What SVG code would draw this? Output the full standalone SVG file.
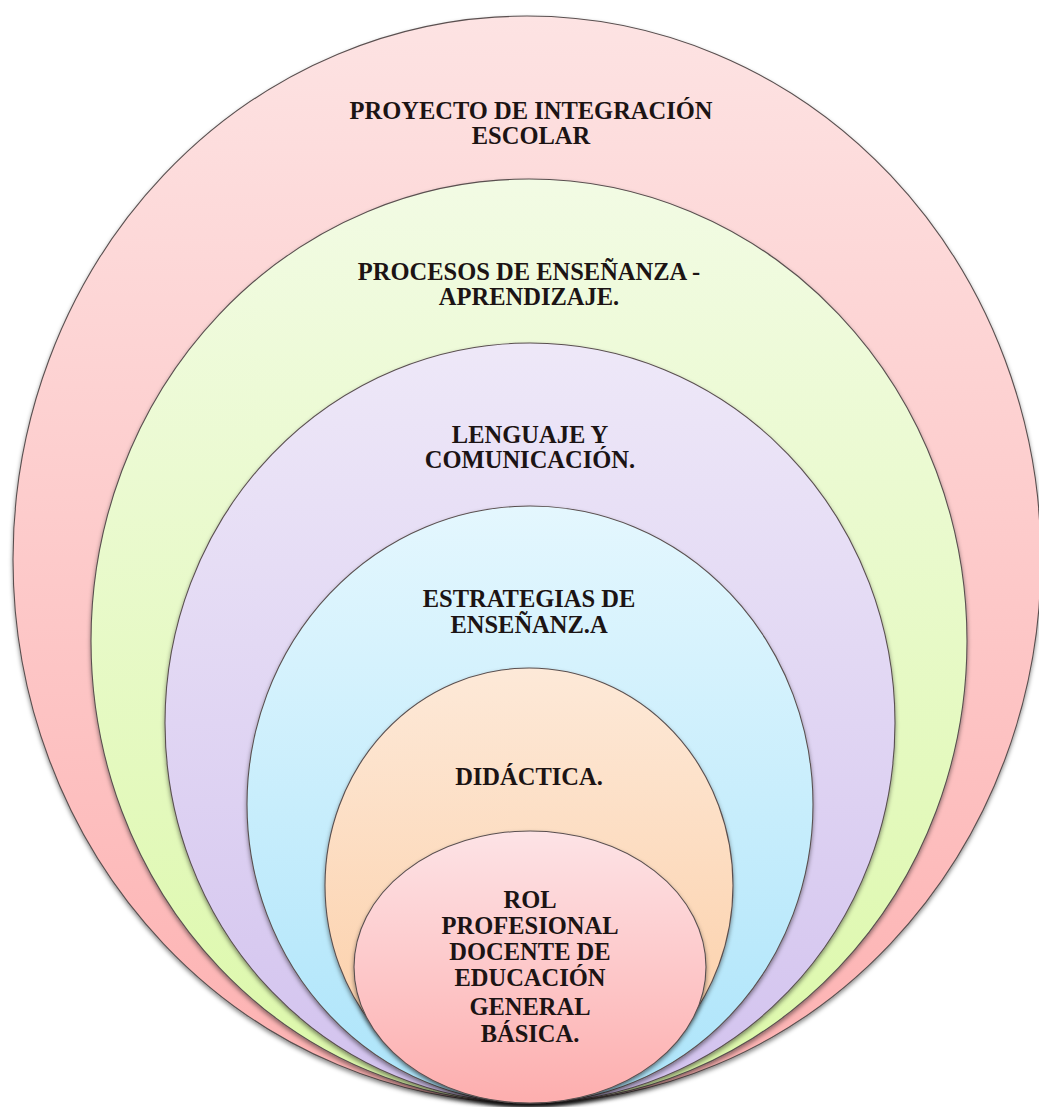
<svg xmlns="http://www.w3.org/2000/svg" width="1039" height="1107" viewBox="0 0 1039 1107">
<style>
.ring{stroke:#5a5050;stroke-width:1.1;filter:url(#sh)}
.lbl{font-family:"Liberation Serif","Times New Roman",serif;font-weight:bold;font-size:24.5px;fill:#1c1414;text-anchor:middle}
</style>
<defs>
<filter id="sh" x="-5%" y="-5%" width="110%" height="112%">
<feDropShadow dx="0" dy="2.5" stdDeviation="2.2" flood-color="#000" flood-opacity="0.45"/>
</filter>
<linearGradient id="g1" x1="0" y1="0" x2="0" y2="1"><stop offset="0" stop-color="#fde3e3"/><stop offset="1" stop-color="#fdb1b1"/></linearGradient>
<linearGradient id="g2" x1="0" y1="0" x2="0" y2="1"><stop offset="0" stop-color="#f2fbe4"/><stop offset="1" stop-color="#dcf8a9"/></linearGradient>
<linearGradient id="g3" x1="0" y1="0" x2="0" y2="1"><stop offset="0" stop-color="#eee8f8"/><stop offset="1" stop-color="#d2c2ee"/></linearGradient>
<linearGradient id="g4" x1="0" y1="0" x2="0" y2="1"><stop offset="0" stop-color="#e4f7fe"/><stop offset="1" stop-color="#ace4fa"/></linearGradient>
<linearGradient id="g5" x1="0" y1="0" x2="0" y2="1"><stop offset="0" stop-color="#fde9d8"/><stop offset="1" stop-color="#fccca2"/></linearGradient>
<linearGradient id="g6" x1="0" y1="0" x2="0" y2="1"><stop offset="0" stop-color="#fde3e6"/><stop offset="1" stop-color="#fdaeae"/></linearGradient>
</defs>
<rect width="1039" height="1107" fill="#ffffff"/>
<g id="n1">
<ellipse class="ring" cx="527" cy="559.5" rx="514" ry="543.5" fill="url(#g1)"/>
<text class="lbl" x="531" y="119">PROYECTO DE INTEGRACIÓN</text>
<text class="lbl" x="531" y="144">ESCOLAR</text>
</g>
<g id="n2">
<ellipse class="ring" cx="529" cy="641" rx="438" ry="462" fill="url(#g2)"/>
<text class="lbl" x="529" y="280">PROCESOS DE ENSEÑANZA -</text>
<text class="lbl" x="529" y="305">APRENDIZAJE.</text>
</g>
<g id="n3">
<ellipse class="ring" cx="530" cy="723" rx="365" ry="380" fill="url(#g3)"/>
<text class="lbl" x="530" y="443">LENGUAJE Y</text>
<text class="lbl" x="530" y="468">COMUNICACIÓN.</text>
</g>
<g id="n4">
<ellipse class="ring" cx="530" cy="804.5" rx="283" ry="298.5" fill="url(#g4)"/>
<text class="lbl" x="529" y="607">ESTRATEGIAS DE</text>
<text class="lbl" x="529" y="633">ENSEÑANZ.A</text>
</g>
<g id="n5">
<ellipse class="ring" cx="529" cy="885.5" rx="204" ry="217.5" fill="url(#g5)"/>
<text class="lbl" x="529" y="785">DIDÁCTICA.</text>
</g>
<g id="n6">
<ellipse class="ring" cx="530" cy="967" rx="176" ry="136" fill="url(#g6)"/>
<text class="lbl" x="530" y="908">ROL</text>
<text class="lbl" x="530" y="934">PROFESIONAL</text>
<text class="lbl" x="530" y="960">DOCENTE DE</text>
<text class="lbl" x="530" y="986">EDUCACIÓN</text>
<text class="lbl" x="530" y="1015">GENERAL</text>
<text class="lbl" x="530" y="1042">BÁSICA.</text>
</g>
<g id="connectors"></g>
</svg>
